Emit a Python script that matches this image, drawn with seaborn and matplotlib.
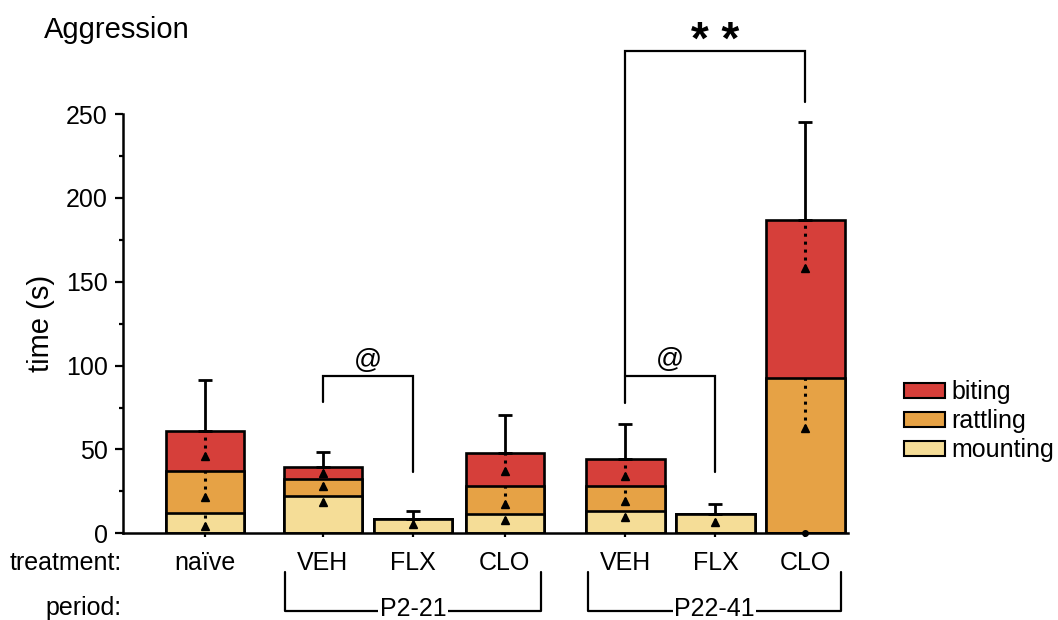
import numpy as np
import pandas as pd
import matplotlib
matplotlib.use("Agg")
import matplotlib.pyplot as plt
import matplotlib.transforms as mtransforms
from matplotlib.patches import Patch
import seaborn as sns

# ---- data ----
treatments = ["naïve", "VEH", "FLX", "CLO", "VEH", "FLX", "CLO"]
periods = ["P2-21", "P22-41"]
mounting = [12.4, 22.5, 8.4, 11.8, 13.4, 11.4, 0.0]
rattling = [24.8, 9.8, 0.0, 16.5, 15.0, 0.0, 92.5]
biting = [24.0, 7.0, 0.0, 19.5, 15.9, 0.0, 94.1]
sem_total = [30.3, 9.0, 4.8, 22.6, 20.9, 5.8, 58.4]
sem_mounting = [8.0, 4.0, 2.6, 3.6, 3.6, 4.6, 0.0]
sem_rattling = [15.8, 4.2, np.nan, 11.0, 9.4, np.nan, 29.5]
sem_biting = [15.2, 3.6, np.nan, 10.8, 10.0, np.nan, 28.3]
behaviours = ["biting", "rattling", "mounting"]
sig_labels = ["@", "@", "* *"]

# ---- layout (not data) ----
pos = np.array([0, 1.31, 2.31, 3.33, 4.67, 5.67, 6.67])
colors = {"biting": "#D63F3A", "rattling": "#E6A245", "mounting": "#F5DD97"}

sns.set_style("ticks")
plt.rcParams["font.family"] = ["Liberation Sans", "DejaVu Sans"]
plt.rcParams["text.color"] = "black"
plt.rcParams["axes.labelcolor"] = "black"
plt.rcParams["xtick.color"] = "black"
plt.rcParams["ytick.color"] = "black"

fig = plt.figure(figsize=(10.58, 6.2), dpi=100)
ax = fig.add_axes([0.1163, 1 - 533.3 / 620, (848 - 123) / 1058, (533.3 - 114) / 620])

m = np.array(mounting)
r = m + np.array(rattling)
b = r + np.array(biting)
df = pd.DataFrame({"pos": pos, "mounting": m, "rattling": r, "biting": b})

for beh in behaviours:
    sns.barplot(data=df, x="pos", y=beh, native_scale=True, orient="x",
                color=colors[beh], edgecolor="black", linewidth=1.9,
                width=0.87, errorbar=None, saturation=1, ax=ax)

# total error (upper)
ax.errorbar(pos, b, yerr=[np.zeros(len(pos)), sem_total], fmt="none",
            ecolor="black", elinewidth=2, capsize=5, capthick=2, zorder=5)

# segment lower errors (dotted)
for tops, errs in [(m, sem_mounting), (r, sem_rattling), (b, sem_biting)]:
    errs = np.array(errs, dtype=float)
    for x, t, e in zip(pos, tops, errs):
        if np.isnan(e):
            continue
        if e > 0:
            ax.vlines(x, t - e, t, colors="black", linewidth=2.2,
                      linestyles=(0, (1, 1.6)), zorder=6)
            ax.plot([x], [t - e], marker="^", ms=5.5, color="black", ls="none", zorder=6)
        else:
            ax.plot([x], [t], marker="o", ms=4, color="black", ls="none",
                    zorder=6, clip_on=False)

ax.set_xlim(-0.911, 7.144)
ax.set_ylim(0, 250)
ax.set_yticks(np.arange(0, 251, 50))
ax.set_yticks(np.arange(25, 250, 50), minor=True)
ax.set_xticks(pos)
ax.set_xticklabels(treatments)
ax.tick_params(axis="y", which="major", length=6, width=1.6, labelsize=18, pad=5, color="black")
ax.tick_params(axis="y", which="minor", length=3, width=1.6, color="black")
ax.tick_params(axis="x", which="major", length=3, width=1.6, labelsize=18, pad=10, color="black")
ax.set_xlabel("")
ax.set_ylabel("time (s)", fontsize=21, labelpad=8)
for s in ["top", "right"]:
    ax.spines[s].set_visible(False)
for s in ["left", "bottom"]:
    ax.spines[s].set_linewidth(1.8)
    ax.spines[s].set_color("black")

# significance brackets
lw = 1.6
def bracket(x1, x2, y_left, y_right, y_top, label, y_text, size, weight="normal"):
    ax.plot([x1, x1, x2, x2], [y_left, y_top, y_top, y_right], color="black",
            lw=lw, clip_on=False, solid_joinstyle="miter")
    ax.text((x1 + x2) / 2, y_text, label, ha="center", va="center",
            fontsize=size, fontweight=weight, clip_on=False)

bracket(pos[1], pos[2], 78, 36.7, 94, sig_labels[0], 103, 20)
bracket(pos[4], pos[5], 94, 36.7, 94, sig_labels[1], 103.5, 20)
bracket(pos[4], pos[6], 77.8, 257, 287.7, sig_labels[2], 293, 33, "bold")

# row labels
fig.text(122 / 1058, 1 - 563 / 620, "treatment:", ha="right", va="center", fontsize=18)
fig.text(122 / 1058, 1 - 608 / 620, "period:", ha="right", va="center", fontsize=18)

# period brackets
trans = mtransforms.blended_transform_factory(ax.transData, fig.transFigure)
y_top = 1 - 572 / 620
y_bot = 1 - 611 / 620
for (i0, i1), lab in zip([(1, 3), (4, 6)], periods):
    x1 = pos[i0] - 0.42
    x2 = pos[i1] + 0.40
    line = plt.Line2D([x1, x1, x2, x2], [y_top, y_bot, y_bot, y_top], transform=trans,
                      color="black", lw=lw, clip_on=False)
    fig.add_artist(line)
    fig.text((x1 + x2) / 2, y_bot + 0.004, lab, transform=trans, ha="center", va="center",
             fontsize=18, bbox=dict(facecolor="white", edgecolor="none", pad=1))

# title
fig.text(44 / 1058, 1 - 30 / 620, "Aggression", ha="left", va="center", fontsize=21)

# legend
handles = [Patch(facecolor=colors[k], edgecolor="black", linewidth=1.5, label=k) for k in behaviours]
fig.legend(handles=handles, loc="center left", bbox_to_anchor=(904 / 1058, 1 - 421 / 620),
           frameon=False, fontsize=18, handlelength=1.65, handleheight=0.55,
           handletextpad=0.25, labelspacing=0.2, borderpad=0, borderaxespad=0)

fig.savefig("out.png", dpi=100)
